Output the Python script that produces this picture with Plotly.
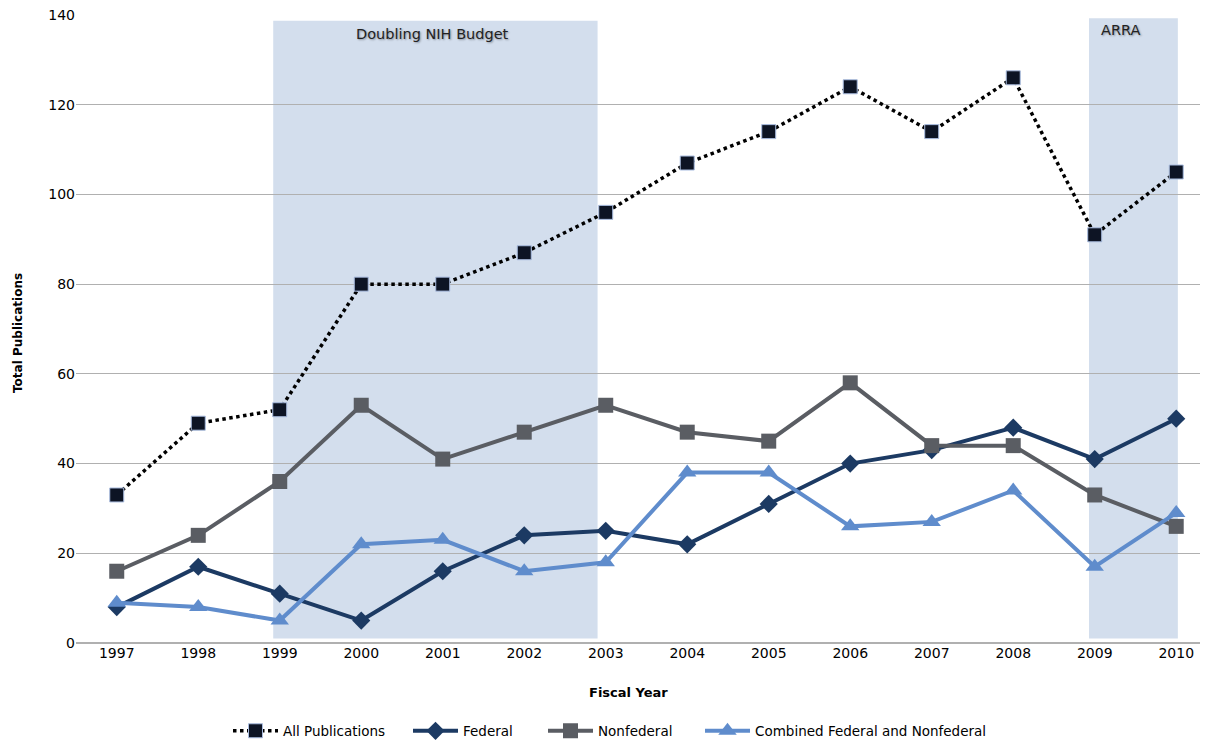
import plotly.graph_objects as go

years = ["1997","1998","1999","2000","2001","2002","2003","2004","2005","2006","2007","2008","2009","2010"]
all_pubs = [33, 49, 52, 80, 80, 87, 96, 107, 114, 124, 114, 126, 91, 105]
federal = [8, 17, 11, 5, 16, 24, 25, 22, 31, 40, 43, 48, 41, 50]
nonfederal = [16, 24, 36, 53, 41, 47, 53, 47, 45, 58, 44, 44, 33, 26]
combined = [9, 8, 5, 22, 23, 16, 18, 38, 38, 26, 27, 34, 17, 29]
y_ticks = [0, 20, 40, 60, 80, 100, 120, 140]

FONT = "'DejaVu Sans', sans-serif"
x = list(range(len(years)))

# page body has an 8px margin; figure sits at (8, 8) on screen
OFF = 8
W, H = 1208 - OFF, 740 - OFF

fig = go.Figure()
fig.add_trace(go.Scatter(x=x, y=all_pubs, name="All Publications", mode="lines+markers", legend="legend",
    line=dict(color="black", width=3.5, dash="dot"),
    marker=dict(symbol="square", size=14, color="#0d1424", line=dict(color="#aabde0", width=1))))
fig.add_trace(go.Scatter(x=x, y=federal, name="Federal", mode="lines+markers", legend="legend2",
    line=dict(color="#1c3a63", width=4),
    marker=dict(symbol="diamond", size=14, color="#1c3a63")))
fig.add_trace(go.Scatter(x=x, y=nonfederal, name="Nonfederal", mode="lines+markers", legend="legend3",
    line=dict(color="#5a5d63", width=4),
    marker=dict(symbol="square", size=15, color="#5a5d63")))
fig.add_trace(go.Scatter(x=x, y=combined, name="Combined Federal and Nonfederal", mode="lines+markers", legend="legend4",
    line=dict(color="#5f8ccc", width=4),
    marker=dict(symbol="triangle-up", size=16, color="#5f8ccc")))

shade = "rgb(211,222,237)"
fig.add_shape(type="rect", xref="x", yref="y", x0=1.92, x1=5.9, y0=1, y1=138.7,
              fillcolor=shade, line=dict(width=0), layer="below")
fig.add_shape(type="rect", xref="x", yref="y", x0=11.93, x1=13.02, y0=1, y1=139.3,
              fillcolor=shade, line=dict(width=0), layer="below")

shadow = "1px 1px 2px rgba(0,0,0,0.35)"
fig.add_annotation(x=3.87, y=135.8, xref="x", yref="y", text="Doubling NIH Budget", showarrow=False,
                   font=dict(family=FONT, size=14.5, color="#222", shadow=shadow), yanchor="middle")
fig.add_annotation(x=12.32, y=136.6, xref="x", yref="y", text="ARRA", showarrow=False,
                   font=dict(family=FONT, size=14.5, color="#222", shadow=shadow), yanchor="middle")

def px_x(v):  # screen px -> paper x
    return (v - 76) / (1208 - 76)

def px_y(v):  # screen px -> paper y
    return (643 - v) / (643 - 15)

fig.add_annotation(x=px_x(18), y=px_y(333), xref="paper", yref="paper", text="<b>Total Publications</b>",
                   showarrow=False, textangle=-90, font=dict(family=FONT, size=12, color="black"),
                   xanchor="center", yanchor="middle")
fig.add_annotation(x=px_x(628), y=px_y(692), xref="paper", yref="paper", text="<b>Fiscal Year</b>",
                   showarrow=False, font=dict(family=FONT, size=13, color="black"),
                   xanchor="center", yanchor="middle")

def cx(v):
    return (v - OFF) / W

leg_common = dict(orientation="h", xref="container", yref="container", yanchor="middle",
                  y=(740 - 731) / H, font=dict(family=FONT, size=13.5, color="black"),
                  bgcolor="rgba(0,0,0,0)", itemwidth=45)
fig.update_layout(
    legend=dict(x=cx(228), **leg_common),
    legend2=dict(x=cx(408), **leg_common),
    legend3=dict(x=cx(543), **leg_common),
    legend4=dict(x=cx(700), **leg_common),
)

fig.update_layout(
    width=W, height=H,
    margin=dict(l=76 - OFF, r=0, t=15 - OFF, b=740 - 643, autoexpand=False),
    plot_bgcolor="white", paper_bgcolor="white",
    font=dict(family=FONT, size=14, color="black"),
    xaxis=dict(tickmode="array", tickvals=x, ticktext=years, range=[-0.5, 13.39],
               showgrid=False, zeroline=False, showline=False, ticks="", automargin=False,
               tickfont=dict(size=14), ticklabeloverflow="allow"),
    yaxis=dict(range=[0, 140], tickvals=y_ticks, showgrid=True, gridcolor="#b0b0b0",
               gridwidth=1, zeroline=True, zerolinecolor="#b0b0b0", ticks="", automargin=False,
               tickfont=dict(size=14), ticklabeloverflow="allow"),
    showlegend=True,
)

fig.write_html("out.html")
